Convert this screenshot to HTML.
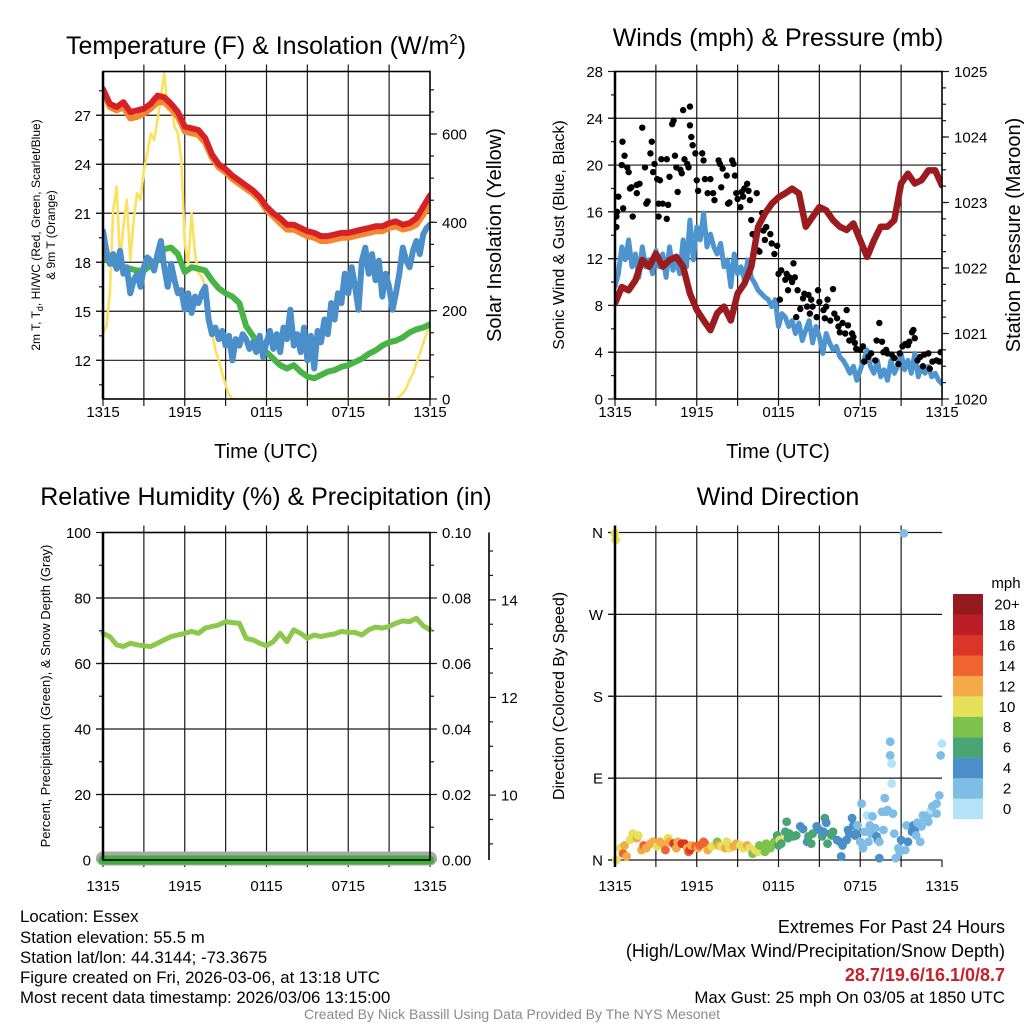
<!DOCTYPE html>
<html><head><meta charset="utf-8"><style>
html,body{margin:0;padding:0;background:#fff;}
svg{display:block;font-family:"Liberation Sans",Arial,sans-serif;}
</style></head><body>
<svg id="root" width="1024" height="1024" viewBox="0 0 1024 1024" xmlns="http://www.w3.org/2000/svg">
<defs>
<clipPath id="c1"><rect x="103" y="71.5" width="327" height="327.5"/></clipPath>
<clipPath id="c2"><rect x="615" y="71.5" width="327" height="327.5"/></clipPath>
<clipPath id="c3"><rect x="96" y="532.5" width="341" height="335"/></clipPath>
<clipPath id="c4"><rect x="608" y="526" width="341" height="341"/></clipPath>
</defs>
<g font-size="25" text-anchor="middle" fill="#000">
<text x="266" y="54">Temperature (F) &amp; Insolation (W/m<tspan font-size="15" dy="-10">2</tspan><tspan dy="10">)</tspan></text>
<text x="778" y="46">Winds (mph) &amp; Pressure (mb)</text>
<text x="266" y="505">Relative Humidity (%) &amp; Precipitation (in)</text>
<text x="778" y="505">Wind Direction</text>
</g>
<g font-size="20" text-anchor="middle">
<text x="266" y="458">Time (UTC)</text>
<text x="778" y="458">Time (UTC)</text>
<text transform="translate(501,235) rotate(-90)">Solar Insolation (Yellow)</text>
<text transform="translate(1020,235) rotate(-90)">Station Pressure (Maroon)</text>
</g>
<g font-size="16" text-anchor="middle">
<text transform="translate(564,235) rotate(-90)">Sonic Wind &amp; Gust (Blue, Black)</text>
<text transform="translate(564,696) rotate(-90)">Direction (Colored By Speed)</text>
</g>
<g font-size="12" text-anchor="middle">
<text transform="translate(40,235) rotate(-90)">2m T, T<tspan font-size="9" dy="3">d</tspan><tspan dy="-3">, HI/WC (Red, Green, Scarlet/Blue)</tspan></text>
<text transform="translate(55,235) rotate(-90)">&amp; 9m T (Orange)</text>
<text transform="translate(50,696) rotate(-90)" font-size="13">Percent, Precipitation (Green), &amp; Snow Depth (Gray)</text>
</g>
<g font-size="16.8">
<text x="20" y="922">Location: Essex</text>
<text x="20" y="943">Station elevation: 55.5 m</text>
<text x="20" y="963">Station lat/lon: 44.3144; -73.3675</text>
<text x="20" y="983">Figure created on Fri, 2026-03-06, at 13:18 UTC</text>
<text x="20" y="1003">Most recent data timestamp: 2026/03/06 13:15:00</text>
<g text-anchor="end">
<text x="1005" y="933" font-size="18">Extremes For Past 24 Hours</text>
<text x="1005" y="957" font-size="18">(High/Low/Max Wind/Precipitation/Snow Depth)</text>
<text x="1005" y="981" font-size="18" font-weight="bold" fill="#c8202a">28.7/19.6/16.1/0/8.7</text>
<text x="1005" y="1003">Max Gust: 25 mph On 03/05 at 1850 UTC</text>
</g>
<text x="512" y="1019" font-size="14" fill="#8a8a8a" text-anchor="middle">Created By Nick Bassill Using Data Provided By The NYS Mesonet</text>
</g>
<g id="plots"></g>
</svg>
<script>
// ---- data ----
const xTickLabels = ["1315","1915","0115","0715","1315"];
const tempF = [28.6,27.7,27.5,27.8,27.2,27.3,27.4,27.7,28.2,28.1,27.7,27.2,26.3,26.2,26.1,25.6,24.6,24.0,23.7,23.3,23.0,22.7,22.4,22.0,21.4,21.0,20.7,20.3,20.3,20.1,19.9,19.8,19.6,19.6,19.7,19.8,19.8,19.9,20.0,20.1,20.2,20.2,20.4,20.5,20.3,20.4,20.7,21.4,22.1];
const temp9mF = [28.5,27.5,27.3,27.5,26.8,26.9,27.1,27.4,27.8,27.8,27.4,26.9,26.0,25.9,25.8,25.3,24.4,23.8,23.5,23.1,22.8,22.5,22.2,21.8,21.2,20.8,20.4,20.0,20.0,19.8,19.6,19.5,19.3,19.3,19.4,19.5,19.5,19.6,19.7,19.8,19.9,19.9,20.1,20.2,20.0,20.1,20.3,20.9,21.6];
const dewpointF = [18.3,18.0,17.8,17.7,17.6,17.5,17.5,17.8,18.1,18.8,18.9,18.5,17.4,17.7,17.6,17.5,16.9,16.4,16.1,15.9,15.5,14.1,13.5,12.7,12.5,12.1,11.7,11.5,11.7,11.3,11.0,10.9,11.1,11.3,11.4,11.6,11.7,11.9,12.1,12.4,12.6,12.9,13.1,13.2,13.4,13.7,13.9,14.0,14.2];
const windChillF = [19.9,18.7,17.9,18.5,17.6,18.7,17.3,17.7,16.1,16.9,17.3,16.5,17.7,18.3,18.1,17.5,18.5,19.3,17.7,16.5,17.9,16.9,16.1,16.3,15.1,16.1,14.9,15.9,15.5,16.1,16.5,14.5,13.6,14.0,13.3,13.8,12.9,13.5,12.0,13.3,12.9,13.6,13.3,12.7,13.1,12.5,13.5,12.2,13.1,13.8,12.7,13.6,12.5,14.0,13.3,15.1,12.9,13.6,12.5,14.0,12.0,13.5,11.5,13.8,13.1,14.5,13.6,15.5,14.5,16.1,15.5,17.3,16.1,17.7,16.5,15.1,18.1,18.9,17.3,18.5,16.9,18.1,15.9,17.3,16.5,15.1,16.1,17.3,18.9,18.1,17.7,18.7,19.3,18.5,19.7,20.1,20.3];
const solarWm2 = [149,164,239,428,481,315,390,451,315,405,466,451,518,556,601,586,632,685,737,654,669,617,601,541,352,307,420,330,285,277,254,201,149,111,88,58,32,9,0,0,0,0,0,0,0,0,0,0,0,0,0,0,0,0,0,0,0,0,0,0,0,0,0,0,0,0,0,0,0,0,0,0,0,0,0,0,0,0,0,0,0,0,0,0,0,0,0,5,13,24,43,58,81,103,126,149,171];
const windMph = [9.6,10.7,13.0,11.9,13.6,11.3,12.4,10.4,13.0,11.3,11.9,10.7,12.7,11.3,12.4,10.4,13.0,11.0,11.9,10.7,13.6,11.3,15.3,11.9,14.7,13.6,15.9,13.0,14.1,13.0,12.4,13.3,11.3,11.9,9.6,12.4,10.7,11.3,10.2,11.9,10.4,9.9,9.3,9.0,8.7,8.5,7.9,8.5,6.2,7.3,7.0,6.2,6.7,5.6,6.5,5.0,5.9,6.7,4.8,6.2,5.3,3.9,5.6,4.8,4.2,4.5,3.6,3.3,2.8,2.2,2.8,1.6,2.5,3.3,4.2,2.8,2.2,3.3,1.9,2.5,1.6,3.3,2.2,2.8,3.9,2.5,3.3,2.2,3.9,1.9,2.8,2.2,2.8,1.9,2.2,1.6,1.3];
const pressureMb = [1021.46,1021.71,1021.66,1021.81,1022.12,1022.02,1022.22,1022.02,1022.12,1022.17,1022.02,1021.61,1021.36,1021.20,1021.05,1021.31,1021.41,1021.20,1021.61,1021.76,1022.02,1022.63,1022.83,1022.98,1023.08,1023.14,1023.21,1023.14,1022.63,1022.78,1022.93,1022.88,1022.73,1022.63,1022.58,1022.68,1022.42,1022.17,1022.42,1022.63,1022.63,1022.73,1023.29,1023.44,1023.29,1023.34,1023.49,1023.49,1023.26];
const gustTimes = [0.1,0.1,0.25,0.15,0.5,0.55,0.7,0.9,1.0,1.1,0.6,1.3,1.2,1.6,1.8,1.6,2.0,2.2,2.3,2.4,2.6,2.7,2.8,2.9,3.1,3.2,3.3,3.2,3.4,3.5,3.8,3.9,3.8,4.0,4.2,4.3,4.4,4.5,4.6,4.8,4.9,5.0,5.1,5.3,5.4,5.5,5.5,5.6,5.7,5.9,6.0,6.1,6.4,6.5,6.6,6.8,7.0,7.2,7.3,7.6,7.7,7.8,7.9,8.2,8.3,8.6,8.7,8.4,8.8,8.9,9.0,9.2,9.3,9.4,9.5,9.7,9.8,9.9,10.0,10.1,10.3,10.4,10.5,10.6,10.8,10.9,11.0,11.1,11.4,11.5,11.7,11.9,12.0,12.1,12.2,12.5,12.6,12.7,12.8,13.0,13.1,13.2,13.3,13.4,13.6,13.8,13.9,14.1,14.2,14.3,14.4,14.5,14.8,14.9,15.0,15.3,15.4,15.5,15.6,15.8,16.0,16.1,16.3,16.4,16.5,16.7,16.9,17.0,17.1,17.2,17.4,17.5,17.6,17.7,18.0,18.2,18.3,18.6,18.8,19.1,19.2,19.4,19.6,19.7,19.9,20.0,20.3,20.5,20.8,20.9,21.1,21.3,21.5,21.6,21.8,21.9,22.0,22.2,22.4,22.6,22.7,23.0,23.1,23.3,23.6,23.8,23.9];
const gustMph = [14.7,15.6,17.3,16.0,20.0,22.0,20.8,19.8,19.4,18.0,16.3,15.6,18.1,18.3,18.4,17.6,23.2,19.8,16.7,16.9,21.0,22.0,19.4,20.1,18.8,15.6,18.7,16.7,20.5,16.7,20.5,16.6,15.4,19.0,23.5,23.8,20.8,19.8,17.7,19.6,19.3,24.7,20.5,20.1,19.8,25.0,23.4,22.4,21.7,21.0,18.7,17.8,21.0,20.4,18.8,17.6,18.8,17.6,17.0,20.4,20.1,18.1,19.7,19.1,16.7,20.4,20.1,16.8,19.1,17.6,17.1,16.4,17.7,17.3,18.0,18.4,17.8,17.0,15.3,14.1,13.9,17.6,12.7,12.6,15.9,14.4,13.6,14.7,14.1,13.3,12.4,13.1,10.7,8.5,11.0,10.2,10.7,9.3,10.4,10.0,11.6,10.4,7.0,9.3,7.7,8.6,9.0,7.9,8.9,7.3,8.5,7.9,7.0,9.3,8.3,7.6,6.9,7.9,8.5,6.7,9.4,7.3,6.9,6.2,5.7,6.5,5.6,7.6,6.3,5.0,5.6,5.3,4.8,4.3,4.2,4.5,3.2,3.6,3.9,3.3,5.0,6.5,4.9,4.0,4.2,3.9,3.8,3.5,3.0,3.9,4.5,4.7,4.6,4.9,5.7,5.9,5.2,3.3,3.6,2.8,3.8,3.9,2.6,3.2,3.3,3.2,4.0];
const relHumidity = [69.2,68.2,65.7,65.2,66.2,65.7,65.4,65.2,66.2,67.2,68.2,68.7,69.2,69.8,69.2,70.8,71.3,71.8,72.8,72.5,72.3,67.7,67.2,66.2,65.4,66.7,69.2,66.7,70.3,69.2,67.7,68.7,68.2,68.7,69.0,69.8,69.5,69.5,68.7,70.3,71.1,70.8,71.3,72.3,73.0,72.8,73.8,71.5,70.3];
const precipIn = [0,0,0,0,0,0,0,0,0,0,0,0,0,0,0,0,0,0,0,0,0,0,0,0,0];
const snowDepthIn = [8.7,8.7,8.7,8.7,8.7,8.7,8.7,8.7,8.7,8.7,8.7,8.7,8.7,8.7,8.7,8.7,8.7,8.7,8.7,8.7,8.7,8.7,8.7,8.7,8.7];
const dirTimes = [0,0.05,0.1,0.4,0.6,0.7,0.85,1.1,1.3,1.6,1.7,1.95,2.1,2.3,2.6,2.8,3.1,3.3,3.5,3.7,3.9,4.0,4.3,4.5,4.6,4.9,5.1,5.3,5.4,5.5,5.6,5.9,6.1,6.2,6.5,6.6,6.8,7.1,7.5,7.6,7.8,8.1,8.2,8.4,8.7,8.9,9.2,9.4,9.7,9.9,10.1,10.3,10.5,10.6,10.9,11.0,11.1,11.4,11.5,11.7,11.9,12.0,12.1,12.2,12.5,12.6,12.7,12.8,13.1,13.3,13.6,13.8,14.1,14.2,14.4,14.5,14.8,15.0,15.2,15.3,15.4,15.5,15.6,15.8,15.9,16.0,16.3,16.5,16.6,16.7,17.0,17.1,17.2,17.4,17.5,17.6,17.7,17.8,18.0,18.1,18.2,18.3,18.5,18.6,18.7,18.8,18.9,19.1,19.2,19.3,19.4,19.4,19.6,19.7,19.8,19.9,20.0,20.2,20.2,20.3,20.3,20.4,20.5,20.6,20.8,20.9,21.0,21.2,21.3,21.4,21.5,21.8,21.9,22.0,22.1,22.2,22.4,22.5,22.6,22.7,22.9,23.0,23.1,23.2,23.3,23.6,23.6,23.8,23.9,24.0];
const dirDegrees = [359,352,0,13,7,16,4,22,29,24,27,11,16,13,18,20,15,20,18,11,24,20,18,13,20,18,18,13,9,11,16,15,13,16,20,18,11,15,20,16,15,13,20,13,15,18,16,13,16,13,7,11,9,16,15,9,18,13,16,20,27,16,22,18,31,42,24,29,26,27,37,34,20,26,18,29,37,33,26,31,46,41,18,29,27,31,22,20,4,16,22,33,29,46,38,27,29,38,20,62,13,31,49,20,38,29,48,35,26,22,2,20,53,33,68,53,55,115,130,106,84,51,29,2,13,9,22,359,11,38,20,31,38,33,27,41,20,37,49,46,48,42,51,55,59,51,62,71,115,128];
const dirSpeedMph = [11,11,11,11,15,13,13,11,11,13,11,13,15,13,13,13,11,13,13,15,11,13,17,13,13,17,17,13,15,17,13,15,13,15,15,15,13,11,9,13,11,13,11,11,13,13,11,11,13,11,9,11,11,9,9,9,9,9,9,9,7,7,11,7,7,7,7,7,7,7,5,5,5,7,7,7,5,5,7,5,7,5,7,5,7,7,5,5,5,5,5,5,5,5,5,5,5,3,3,3,3,3,1,3,3,3,3,3,5,5,5,3,3,3,3,3,3,3,3,1,1,3,3,3,3,3,5,3,3,3,5,5,5,5,3,3,3,3,3,3,3,3,3,1,3,3,3,3,3,1];
const speedBinLabels = ["0","2","4","6","8","10","12","14","16","18","20+"];
const speedBinColors = ["#b4e3f7","#7fbde6","#4a8fc8","#4aa574","#7cc24b","#e6e05a","#f5aa48","#ef642f","#dd3428","#bb1e26","#951a1d"];

// ---- helpers ----
const NS = "http://www.w3.org/2000/svg";
const plots = document.getElementById("plots");
function mk(tag, attrs, parent) {
  const e = document.createElementNS(NS, tag);
  for (const k in attrs) e.setAttribute(k, attrs[k]);
  (parent || plots).appendChild(e);
  return e;
}
function P(x0, x1, y0, y1) { return {x0:x0, x1:x1, y0:y0, y1:y1}; }
const P1 = P(103, 430, 71.5, 399), P2 = P(615, 942, 71.5, 399), P3 = P(103, 430, 532.5, 860), P4 = P(615, 942, 532.5, 860);
function xT(p, t) { return p.x0 + t / 24 * (p.x1 - p.x0); }
function yS(p, v, lo, hi) { return p.y1 - (v - lo) / (hi - lo) * (p.y1 - p.y0); }
const T_LO = 9.63, T_HI = 29.68, S_HI = 741.5, SN_LO = 8.67, SN_HI = 15.38;

function grid(p, hVals, lo, hi, name) {
  const g = mk("g", {stroke:"#1a1a1a", "stroke-width":"1.2", fill:"none"});
  
  
  for (let i = 1; i < 8; i++) {
    const x = xT(p, i * 3);
    mk("line", {x1:x, x2:x, y1:p.y0 - 7, y2:p.y1 + 7}, g);
  }
  hVals.forEach(v => { const y = yS(p, v, lo, hi); mk("line", {x1:p.x0 - 7, x2:p.x1, y1:y, y2:y}, g); });
  [0, 24].forEach(t => { const x = xT(p, t); mk("line", {x1:x, x2:x, y1:p.y1, y2:p.y1 + 7}, g); });
}
function xLabels(p, y, name) {
  const g = mk("g", {"font-size":"15", "text-anchor":"middle"});
  
  
  xTickLabels.forEach((s, i) => { const t = mk("text", {x:xT(p, i * 6), y:y}, g); t.textContent = s; });
}
function yAxis(p, side, majors, minors, lo, hi, labels, name, xOverride) {
  const g = mk("g", {stroke:"#1a1a1a", "stroke-width":"1.2"});
  
  
  const ax = xOverride !== undefined ? xOverride : (side === "left" ? p.x0 : p.x1);
  const d = side === "left" ? -1 : 1;
  minors.forEach(v => { const y = yS(p, v, lo, hi); mk("line", {x1:ax, x2:ax + d * 4, y1:y, y2:y}, g); });
  majors.forEach((v, i) => {
    const y = yS(p, v, lo, hi);
    mk("line", {x1:ax, x2:ax + d * 7, y1:y, y2:y}, g);
    const t = mk("text", {x:ax + d * 12, y:y + 5.5, "font-size":"15", stroke:"none", fill:"#000", "text-anchor": side === "left" ? "end" : "start"}, g);
    t.textContent = labels[i];
  });
}
function frame(p, name) {
  const r = mk("rect", {x:p.x0, y:p.y0, width:p.x1 - p.x0, height:p.y1 - p.y0, fill:"none", stroke:"#000", "stroke-width":"1.6"});
  
  
  const l = mk("line", {x1:p.x0, x2:p.x0, y1:p.y0, y2:p.y1, stroke:"#000", "stroke-width":"2.5"});
  
  
}
function linePath(p, vals, step, lo, hi) {
  return vals.map((v, i) => (i ? "L" : "M") + xT(p, i * step).toFixed(1) + " " + yS(p, v, lo, hi).toFixed(1)).join(" ");
}
function series(p, vals, step, lo, hi, color, w, clip, name) {
  const e = mk("path", {d:linePath(p, vals, step, lo, hi), fill:"none", stroke:color, "stroke-width":w, "stroke-linejoin":"round", "stroke-linecap":"round", "clip-path":"url(#" + clip + ")"});
  
  
  return e;
}
function seq(a, b, s) { const r = []; for (let v = a; v <= b + 1e-9; v += s) r.push(+v.toFixed(3)); return r; }

// ---- panel 1 ----
grid(P1, [12,15,18,21,24,27], T_LO, T_HI, "temperature");
yAxis(P1, "left", [12,15,18,21,24,27], seq(10.5, 28.5, 3), T_LO, T_HI, ["12","15","18","21","24","27"], "temperature-y-axis");
yAxis(P1, "right", [0,200,400,600], seq(50, 700, 50), 0, S_HI, ["0","200","400","600"], "insolation-y-axis");
series(P1, solarWm2, 0.25, 0, S_HI, "#fbe15e", 2.6, "c1", "solar-insolation-line");
series(P1, temp9mF, 0.5, T_LO, T_HI, "#f58631", 6, "c1", "temperature-9m-line");
series(P1, tempF, 0.5, T_LO, T_HI, "#d62227", 6, "c1", "temperature-2m-line");
series(P1, dewpointF, 0.5, T_LO, T_HI, "#48b446", 6, "c1", "dewpoint-line");
series(P1, windChillF, 0.25, T_LO, T_HI, "#4b8fca", 6, "c1", "wind-chill-line");
frame(P1, "temperature");
xLabels(P1, 417, "temperature");

// ---- panel 2 ----
grid(P2, [4,8,12,16,20,24], 0, 28, "winds");
yAxis(P2, "left", [0,4,8,12,16,20,24,28], seq(2, 26, 4), 0, 28, ["0","4","8","12","16","20","24","28"], "wind-y-axis");
yAxis(P2, "right", [1020,1021,1022,1023,1024,1025], seq(1020.25, 1024.75, 0.25), 1020, 1025, ["1020","1021","1022","1023","1024","1025"], "pressure-y-axis");
series(P2, windMph, 0.25, 0, 28, "#4e95d0", 5, "c2", "sonic-wind-line");
const gg = mk("g", {fill:"#000", "clip-path":"url(#c2)"});


gustTimes.forEach((t, i) => {
  const c = mk("circle", {cx:xT(P2, t), cy:yS(P2, gustMph[i], 0, 28), r:3.2}, gg);
  
  
});
series(P2, pressureMb, 0.5, 1020, 1025, "#9b1b1e", 6.5, "c2", "pressure-line");
frame(P2, "winds");
xLabels(P2, 417, "winds");

// ---- panel 3 ----
grid(P3, [20,40,60,80], 0, 100, "humidity");
yAxis(P3, "left", [0,20,40,60,80,100], seq(10, 90, 20), 0, 100, ["0","20","40","60","80","100"], "humidity-y-axis");
yAxis(P3, "right", [0,0.02,0.04,0.06,0.08,0.1], seq(0.01, 0.09, 0.02), 0, 0.1, ["0.00","0.02","0.04","0.06","0.08","0.10"], "precip-y-axis");
const snowLine = mk("line", {x1:489, x2:489, y1:P3.y0, y2:P3.y1, stroke:"#000", "stroke-width":"1.6"});


yAxis(P3, "right", [10,12,14], seq(9, 15, 0.5).filter(v => v % 2 !== 0), SN_LO, SN_HI, ["10","12","14"], "snow-depth-y-axis", 489);
series(P3, snowDepthIn, 1, SN_LO, SN_HI, "#a8a8a8", 14, "c3", "snow-depth-line");
series(P3, precipIn, 1, 0, 0.1, "#3fae3f", 9, "c3", "precipitation-line");
series(P3, relHumidity, 0.5, 0, 100, "#8cc84b", 5, "c3", "relative-humidity-line");
frame(P3, "humidity");
xLabels(P3, 891, "humidity");

// ---- panel 4 ----
grid(P4, [90,180,270,360], 0, 360, "direction");
const hl = mk("line", {x1:P4.x0 - 7, x2:P4.x1, y1:P4.y1, y2:P4.y1, stroke:"#1a1a1a", "stroke-width":"1.2"});


yAxis(P4, "left", [0,90,180,270,360], [], 0, 360, ["N","E","S","W","N"], "direction-y-axis");
const dg = mk("g", {"clip-path":"url(#c4)"});


dirTimes.forEach((t, i) => {
  const bin = Math.min(10, Math.floor(dirSpeedMph[i] / 2));
  const c = mk("circle", {cx:xT(P4, t), cy:yS(P4, dirDegrees[i], 0, 360), r:4.4, fill:speedBinColors[bin]}, dg);
  
  
});
const f4 = mk("line", {x1:P4.x0, x2:P4.x0, y1:P4.y0 - 7, y2:P4.y1 + 7, stroke:"#000", "stroke-width":"2.5"});


xLabels(P4, 891, "direction");

// colorbar
const cb = mk("g", {});


const mph = mk("text", {x:1006, y:588, "font-size":"15", "text-anchor":"middle"}, cb);
mph.textContent = "mph";


speedBinLabels.forEach((lab, i) => {
  const y = 594 + (10 - i) * 20.45;
  const r = mk("rect", {x:953, y:y, width:30, height:20.6, fill:speedBinColors[i]}, cb);
  
  
  const t = mk("text", {x:1007, y:y + 15.5, "font-size":"15", "text-anchor":"middle"}, cb);
  t.textContent = lab;
  
  
});
</script>
</body></html>
